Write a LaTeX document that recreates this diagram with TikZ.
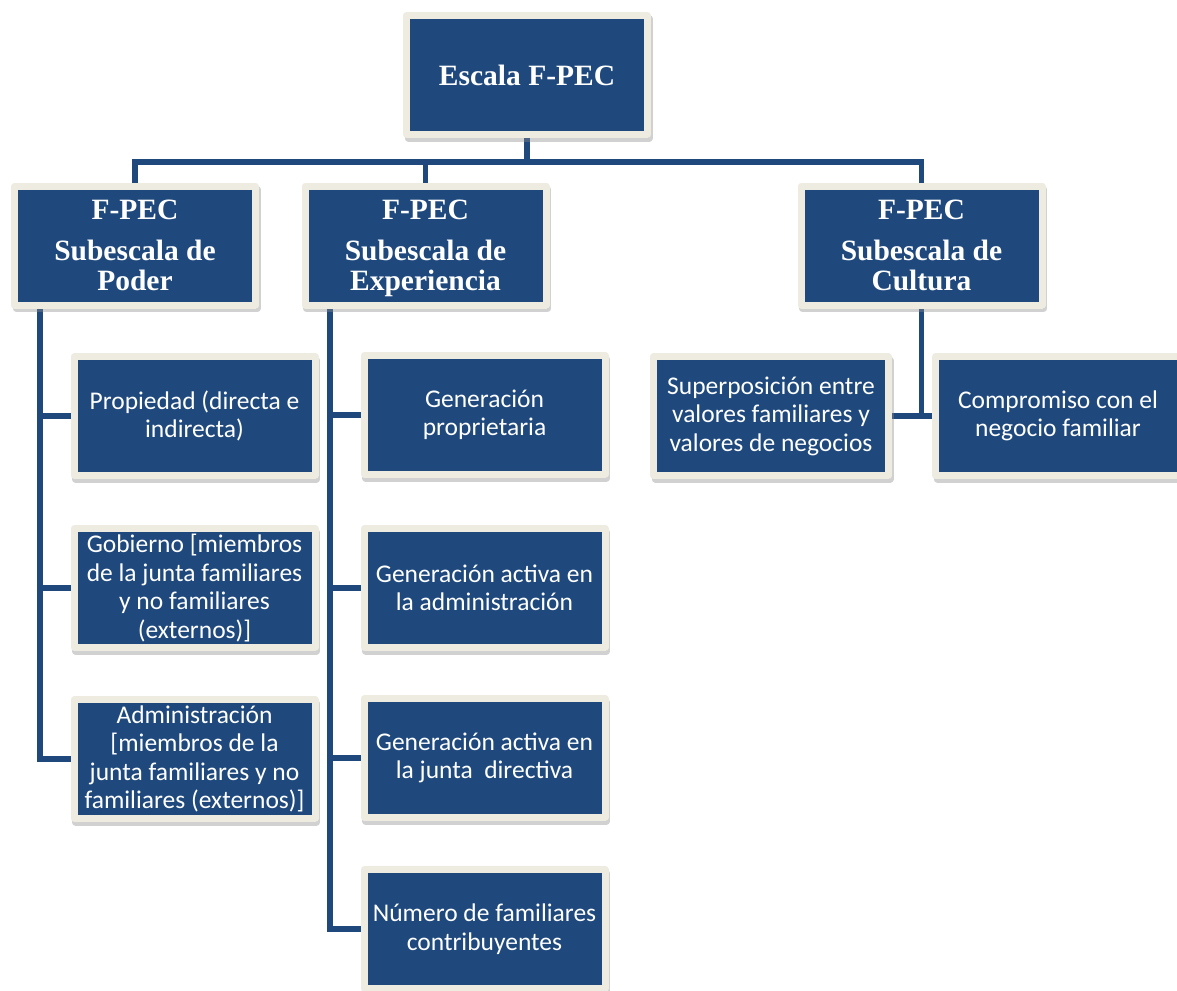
\documentclass[tikz,border=0pt]{standalone}
\usepackage{fontspec}
\setmainfont{Carlito}
\newfontfamily\titlefont{Liberation Serif}
\usetikzlibrary{shadows,backgrounds}
\definecolor{boxblue}{HTML}{1F497D}
\definecolor{boxcream}{HTML}{EEECE1}
\tikzset{
  box/.style={rectangle, fill=boxblue, draw=boxcream, line width=7pt, line join=round,
    text=white, align=center, inner sep=0pt, minimum width=241pt, minimum height=119pt,
    drop shadow={shadow xshift=1.5pt, shadow yshift=-3.5pt, fill=black!45, draw=black!45,
      line width=7pt, line join=round, opacity=0.4}},
  headbox/.style={box, font=\titlefont\bfseries\fontsize{29.5}{30}\selectfont},
  leafbox/.style={box, font=\fontsize{25.5}{28.5}\selectfont},
  conn/.style={draw=boxblue, line width=5.5pt, line join=miter}
}
\begin{document}
\begin{tikzpicture}[x=1pt,y=-1pt]
\useasboundingbox (0,0) rectangle (1177,990);
% level 1 and 2
\node[headbox] (top) at (527,75) {Escala F-PEC};
\node[headbox] (poder) at (135,245.5) {F-PEC\\[11pt]Subescala de\\Poder};
\node[headbox] (exp) at (425.5,245.5) {F-PEC\\[11pt]Subescala de\\\smash{Experiencia}};
\node[headbox] (cult) at (921.5,245.5) {F-PEC\\[11pt]Subescala de\\Cultura};
% Poder children
\node[leafbox] (p1) at (194.5,416) {Propiedad (directa e\\indirecta)};
\node[leafbox] (p2) at (194.5,588) {Gobierno [miembros\\de la junta familiares\\y no familiares\\(externos)]};
\node[leafbox] (p3) at (194.5,759) {Administración\\{[}miembros de la\\junta familiares y no\\familiares (externos)]};
% Experiencia children
\node[leafbox] (e1) at (484.5,415) {Generación\\proprietaria};
\node[leafbox] (e2) at (484.5,588) {Generación activa en\\la administración};
\node[leafbox] (e3) at (484.5,758) {Generación activa en\\la junta\ \ directiva};
\node[leafbox] (e4) at (484.5,929) {Número de familiares\\contribuyentes};
% Cultura children
\node[leafbox, minimum width=235pt] (c1) at (771,416) {Superposición entre\\valores familiares y\\valores de negocios};
\node[leafbox, minimum width=245pt] (c2) at (1058,416) {Compromiso con el\\negocio familiar};
% connectors
\begin{scope}[on background layer]
  \coordinate (hb) at (0,162);
  \coordinate (pv) at (40,300);
  \coordinate (ev) at (330,300);
  \draw[conn] (top.south) -- (top.south |- hb);
  \draw[conn] (poder.north) |- (top.south |- hb) -| (cult.north);
  \draw[conn] (exp.north) -- (exp.north |- hb);
  \draw[conn] (pv) |- (p1.west);
  \draw[conn] (pv) |- (p2.west);
  \draw[conn] (pv) |- (p3.west);
  \draw[conn] (ev) |- (e1.west);
  \draw[conn] (ev) |- (e2.west);
  \draw[conn] (ev) |- (e3.west);
  \draw[conn] (ev) |- (e4.west);
  \draw[conn] (cult.south) |- (c1.east);
  \draw[conn] (cult.south) |- (c2.west);
\end{scope}
\end{tikzpicture}
\end{document}
